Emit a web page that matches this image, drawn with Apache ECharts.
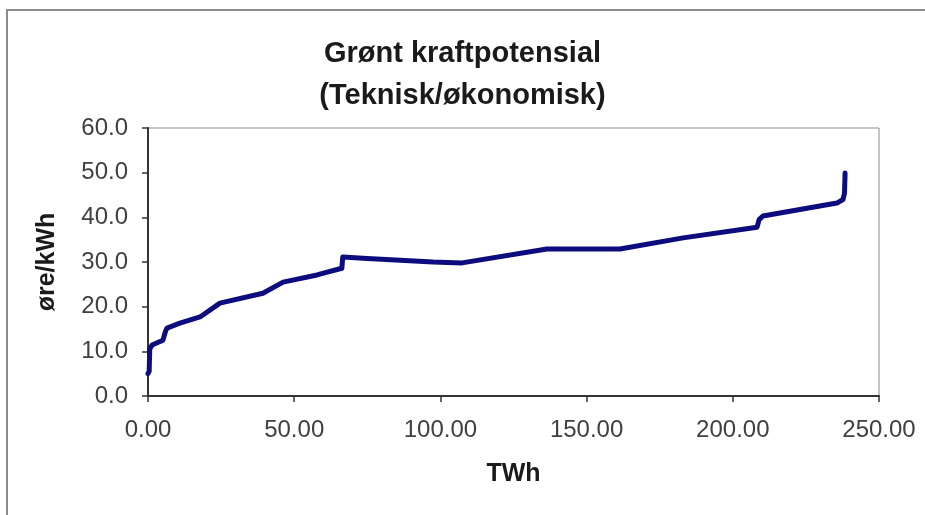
<!DOCTYPE html>
<html>
<head>
<meta charset="utf-8">
<script src="https://cdn.jsdelivr.net/npm/echarts@6/dist/echarts.min.js"></script>
<style>
    html, body { margin: 0; padding: 0; background: #fff; }
    #chart { width: 925px; height: 515px; }
</style>
</head>
<body>
<div id="chart"></div>
<script>
    // TWh (x) og øre/kWh (y), lest av figuren
    const twh = [0, 0.4, 0.6, 1.4, 5.1, 6.0, 6.5, 10.9, 17.8, 24.6, 39.3, 46.2, 57.8, 66.3, 66.6, 75.0, 97.5, 107.4, 136.4, 161.4, 183.0, 208.3, 209.0, 210.3, 235.6, 237.7, 238.2, 238.4]
    const ore = [5.0, 5.5, 10.5, 11.4, 12.5, 14.5, 15.2, 16.3, 17.7, 20.8, 23.0, 25.5, 27.1, 28.6, 31.1, 30.8, 30.0, 29.8, 32.9, 32.9, 35.4, 37.8, 39.5, 40.3, 43.2, 44.0, 45.4, 49.9]
    const titleLines = ['Grønt kraftpotensial', '(Teknisk/økonomisk)']
    const xName = 'TWh'
    const yName = 'øre/kWh'

    const points = twh.map(function(x, i) {
        return [x, ore[i]]
    })

    const myChart = echarts.init(document.getElementById('chart'))
    const font = 'Liberation Sans, Arial, sans-serif'

    const option = {
        backgroundColor: '#fff',
        animation: false,
        title: {
            text: titleLines.join('\n'),
            left: 'center',
            top: 28,
            textStyle: {
                fontFamily: font,
                fontSize: 29,
                fontWeight: 'bold',
                color: '#1a1a1a',
                lineHeight: 42
            }
        },
        graphic: [
            {
                type: 'rect',
                shape: { x: 7, y: 10, width: 940, height: 530 },
                style: { fill: 'none', stroke: '#8c8c8c', lineWidth: 2 },
                silent: true
            }
        ],
        grid: {
            left: 148,
            right: 46,
            top: 128,
            bottom: 119,
            show: true,
            borderColor: '#8a8a8a',
            borderWidth: 1,
            backgroundColor: '#fff'
        },
        xAxis: {
            type: 'value',
            min: 0,
            max: 250,
            interval: 50,
            name: xName,
            nameLocation: 'middle',
            nameGap: 66,
            nameTextStyle: {
                fontFamily: font,
                fontSize: 25,
                fontWeight: 'bold',
                color: '#1a1a1a'
            },
            axisLine: { lineStyle: { color: '#333', width: 2 } },
            axisTick: { length: 6, lineStyle: { color: '#333', width: 1.5 } },
            axisLabel: {
                margin: 22,
                fontFamily: font,
                fontSize: 24,
                color: '#404040',
                formatter: function(v) { return v.toFixed(2) }
            },
            splitLine: { show: false }
        },
        yAxis: {
            type: 'value',
            min: 0,
            max: 60,
            interval: 10,
            name: yName,
            nameLocation: 'middle',
            nameGap: 88,
            nameTextStyle: {
                fontFamily: font,
                fontSize: 25,
                fontWeight: 'bold',
                color: '#1a1a1a'
            },
            axisLine: { show: true, lineStyle: { color: '#333', width: 2 } },
            axisTick: { show: true, length: 6, lineStyle: { color: '#333', width: 1.5 } },
            axisLabel: {
                margin: 20,
                fontFamily: font,
                fontSize: 24,
                color: '#404040',
                formatter: function(v) { return v.toFixed(1) }
            },
            splitLine: { show: false }
        },
        series: [
            {
                type: 'line',
                data: points,
                showSymbol: false,
                smooth: false,
                lineStyle: { color: '#0c0c7e', width: 5, cap: 'round', join: 'round' }
            }
        ]
    }
    myChart.setOption(option)
</script>
</body>
</html>
